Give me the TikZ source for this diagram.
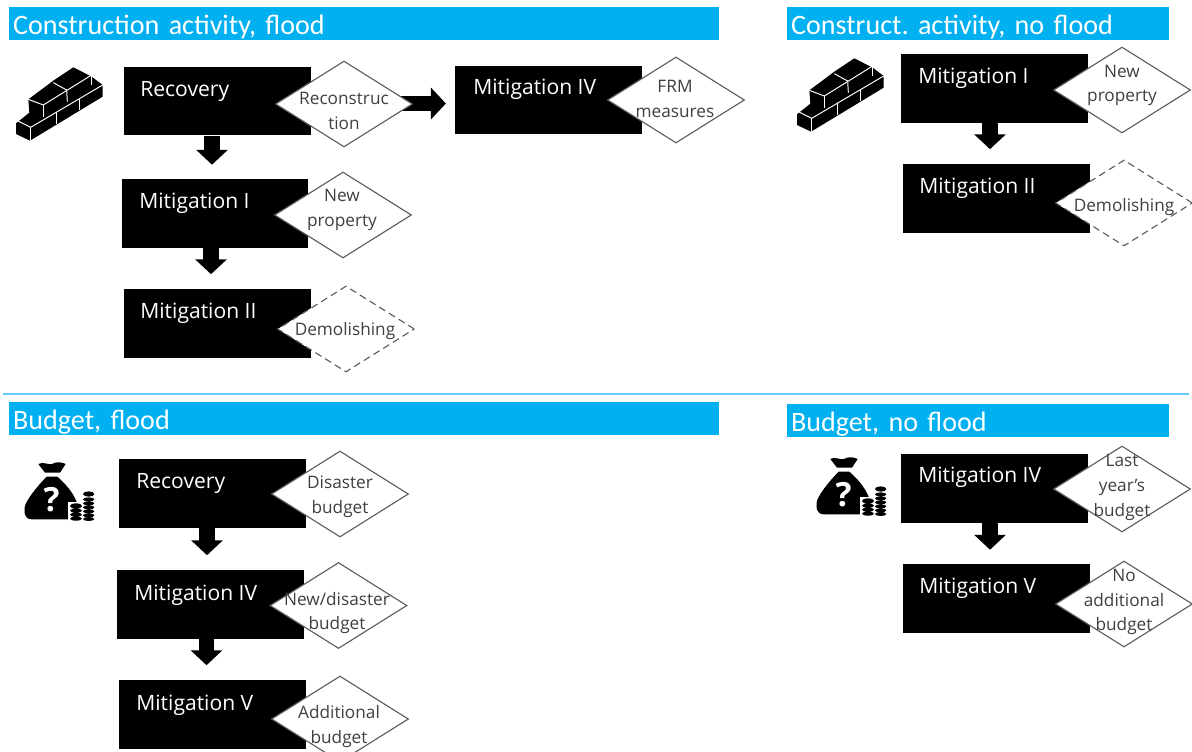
\documentclass[tikz,border=0pt]{standalone}
\usepackage{fontspec}
\usepackage{xcolor}
\setmainfont{Open Sans}
\newfontfamily\headfont{Carlito}
\usetikzlibrary{shapes.geometric,arrows.meta,calc}
\definecolor{headblue}{HTML}{00B0F0}
\definecolor{ruleblue}{HTML}{66CCFF}
\definecolor{darktext}{HTML}{404040}
\definecolor{edgegray}{HTML}{5E5E5E}
\tikzset{
    header/.style={fill=headblue, text=white, font=\headfont\fontsize{16}{16}\selectfont\frenchspacing, align=left, inner xsep=.08cm, inner ysep=0, text width=#1, text height=14pt, text depth=1pt, minimum height=.66cm},
    blackbox/.style={fill=black, inner sep=0, minimum width=3.74cm, minimum height=1.38cm},
    boxtext/.style={text=white, anchor=base west, inner sep=0, font=\fontsize{12}{14}\selectfont},
    decision/.style={diamond, draw=edgegray, fill=white, line width=.65pt, inner sep=0, minimum width=2.74cm, minimum height=1.72cm},
    maybe/.style={decision, dash pattern=on 4pt off 2.5pt},
    decisiontext/.style={text=darktext, align=center, inner sep=0, font=\fontsize{9.8}{14}\selectfont},
    flowarrow/.style={line width=9pt, -{Triangle[width=17.6pt,length=8.5pt]}, shorten >=14*.567pt},
    brickicon/.pic={
        \begin{scope}[shift={(10,60)},scale=1/3]
            \fill (18,190) -- (18,222) -- (60,242) -- (278,110) -- (278,75) -- (245,50) -- (190,22) -- (130,62) -- (55,118) -- (58,158) -- cycle;
            \draw[white, line width=.55pt] (22,182) -- (62,202) -- (278,75);
            \draw[white, line width=.55pt] (55,118) -- (100,135) -- (245,45);
            \draw[white, line width=.55pt] (130,68) -- (170,90) -- (172,125);
            \draw[white, line width=.55pt] (100,135) -- (100,172);
            \draw[white, line width=.55pt] (245,48) -- (245,76);
            \draw[white, line width=.55pt] (62,202) -- (62,242);
            \draw[white, line width=.55pt] (140,155) -- (140,192);
            \draw[white, line width=.55pt] (208,115) -- (208,150);
        \end{scope}
    },
    moneyicon/.pic={
        \begin{scope}[shift={(0,440)},scale=1/3]
            % Bag
            \fill (115,72) .. controls (135,64) and (145,76) .. (156,72) .. controls (168,64) and (185,66) .. (197,72) -- (180,98) -- (135,98) -- cycle;
            \fill (140,110) -- (172,110) .. controls (200,135) and (240,175) .. (240,238) -- (95,238) .. controls (70,238) and (70,205) .. (78,190) .. controls (90,165) and (120,130) .. (140,110);
            \node[text=white, inner sep=0, font=\bfseries\fontsize{19}{19}\selectfont] (qmark) at (155,178) {?};
            % Coins
            \fill[white] (205,185) rectangle (290,245);
            \fill (228,198) ellipse (18 and 8) (228,212) ellipse (18 and 6) (228,224) ellipse (18 and 6) (228,236) ellipse (18 and 6);
            \fill (266,162) ellipse (17 and 8) (266,178) ellipse (17 and 6) (266,190) ellipse (17 and 6) (266,202) ellipse (17 and 6) (266,214) ellipse (17 and 6) (266,226) ellipse (17 and 6) (266,237) ellipse (17 and 6);
        \end{scope}
    }
}
\begin{document}
\begin{tikzpicture}[x=.02cm, y=-.02cm]
    \clip (0,0) rectangle (1192,751);

    % Headers
    \node[header=14.04cm] (conflood) at (364,23.5) {Construction activity, flood};
    \node[header=7.48cm] (connoflood) at (978,23.5) {Construct. activity, no flood};
    \node[header=14.04cm] (budflood) at (364,418.5) {Budget, flood};
    \node[header=7.48cm] (budnoflood) at (978,420.5) {Budget, no flood};
    \coordinate (ruleleft) at (3,394);
    \coordinate (ruleright) at (1189,394);
    \draw[ruleblue, line width=.7pt] (ruleleft) -- (ruleright);

    % Icons
    \pic at (0,0) {brickicon};
    \pic at (781,-9) {brickicon};
    \pic at (0,0) {moneyicon};
    \pic at (792,-5) {moneyicon};

    % Construction activity, flood
    \node[blackbox] (recA) at (217.5,101) {};
    \node[blackbox] (mitIA) at (215,213.5) {};
    \node[blackbox] (mitIIA) at (217.5,323) {};
    \node[blackbox] (mitIVA) at (548.5,100) {};
    \draw[flowarrow] ($(recA.south)+(-5.5,0)$) -- ($(mitIA.north)+(-3,0)$);
    \draw[flowarrow] ($(mitIA.south)+(-4,0)$) -- ($(mitIIA.north)+(-6.5,0)$);
    \draw[flowarrow, shorten >=5pt] ($(recA.east)+(0,2.5)$) -- ($(mitIVA.west)+(0,3.5)$);
    \node[decision] (recAd) at (344,104) {};
    \node[decision] (mitIAd) at (343,215) {};
    \node[maybe] (mitIIAd) at (346,329) {};
    \node[decision] (mitIVAd) at (676,100) {};
    \node[boxtext] (recAt) at (140,96) {Recovery};
    \node[boxtext] (mitIAt) at (139,208) {Mitigation I};
    \node[boxtext] (mitIIAt) at (140,318) {Mitigation II};
    \node[boxtext] (mitIVAt) at (473,94) {Mitigation IV};
    \node[decisiontext] (recAl) at (344,111) {Reconstruc\\tion};
    \node[decisiontext] (mitIAl) at (342,210) {New\\property};
    \node[decisiontext] (mitIIAl) at (345,331) {Demolishing};
    \node[decisiontext] (mitIVAl) at (675,99) {FRM\\measures};

    % Construct. activity, no flood
    \node[blackbox] (mitIB) at (994,88.5) {};
    \node[blackbox] (mitIIB) at (996.5,198) {};
    \draw[flowarrow] ($(mitIB.south)+(-4,0)$) -- ($(mitIIB.north)+(-6.5,0)$);
    \node[decision] (mitIBd) at (1122,90) {};
    \node[maybe] (mitIIBd) at (1124,203) {};
    \node[boxtext] (mitIBt) at (918,83) {Mitigation I};
    \node[boxtext] (mitIIBt) at (919,193) {Mitigation II};
    \node[decisiontext] (mitIBl) at (1122,85.5) {New\\property};
    \node[decisiontext] (mitIIBl) at (1124,207) {Demolishing};

    % Budget, flood
    \node[blackbox] (recC) at (212.5,493) {};
    \node[blackbox] (mitIVC) at (210.5,604) {};
    \node[blackbox] (mitVC) at (212.5,714) {};
    \draw[flowarrow] ($(recC.south)+(-5.5,0)$) -- ($(mitIVC.north)+(-3.5,0)$);
    \draw[flowarrow] ($(mitIVC.south)+(-4,0)$) -- ($(mitVC.north)+(-6,0)$);
    \node[decision] (recCd) at (340,494) {};
    \node[decision] (mitIVCd) at (338.5,605.5) {};
    \node[decision] (mitVCd) at (340,719) {};
    \node[boxtext] (recCt) at (136,488) {Recovery};
    \node[boxtext] (mitIVCt) at (134,600) {Mitigation IV};
    \node[boxtext] (mitVCt) at (136,710) {Mitigation V};
    \node[decisiontext] (recCl) at (340,496.5) {Disaster\\budget};
    \node[decisiontext] (mitIVCl) at (337,613) {New/disaster\\budget};
    \node[decisiontext] (mitVCl) at (339,726.5) {Additional\\budget};

    % Budget, no flood
    \node[blackbox] (mitIVD) at (994,488) {};
    \node[blackbox] (mitVD) at (996.5,598.5) {};
    \draw[flowarrow] ($(mitIVD.south)+(-4,0)$) -- ($(mitVD.north)+(-6.5,0)$);
    \node[decision] (mitIVDd) at (1122,489) {};
    \node[decision] (mitVDd) at (1124,604) {};
    \node[boxtext] (mitIVDt) at (918,482) {Mitigation IV};
    \node[boxtext] (mitVDt) at (919,593) {Mitigation V};
    \node[decisiontext] (mitIVDl) at (1122,487.5) {Last\\year’s\\budget};
    \node[decisiontext] (mitVDl) at (1124,602) {No\\additional\\budget};
\end{tikzpicture}
\end{document}
